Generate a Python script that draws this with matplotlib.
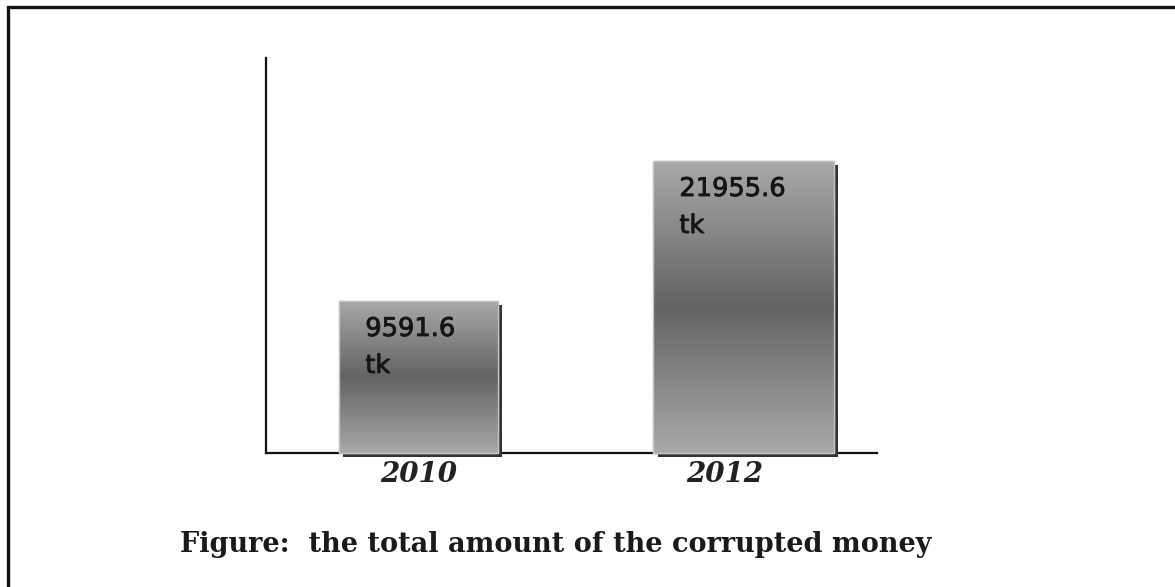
import numpy as np
import matplotlib
matplotlib.use("Agg")
import matplotlib.pyplot as plt
import matplotlib.patheffects as pe
from matplotlib.colors import LinearSegmentedColormap
from matplotlib.patches import Rectangle

# ----------------- data ----------------- #
years = ["2010", "2012"]
amounts = [9591.6, 21955.6]
unit = "tk"
caption = "Figure:  the total amount of the corrupted money"

# ----------------- style ----------------- #
y_base, y_top = -3833, 31052          # axis does not start at zero in the original
bar_offsets = [0.0, 0.063]
bar_widths = [0.52, 0.59]
grad = LinearSegmentedColormap.from_list(
    "bar_grad", ["#a9a9a9", "#636363", "#a9a9a9"])

fig = plt.figure(figsize=(11.75, 5.87), dpi=100)
ax = fig.add_axes([266 / 1175, 1 - 453 / 587, 611 / 1175, 395 / 587])

x = np.arange(len(years))
heights = [a - y_base for a in amounts]
bars = ax.bar(x + np.array(bar_offsets), heights, width=bar_widths, bottom=y_base,
              color="#8a8a8a", edgecolor="#c4c4c4", linewidth=1.0, zorder=3,
              clip_on=False)

g = np.linspace(0, 1, 256).reshape(-1, 1)
for i, b in enumerate(bars):
    b.set_path_effects([pe.SimplePatchShadow(offset=(3, -3), shadow_rgbFace="#333333", alpha=1.0),
                        pe.Normal()])
    x0, w = b.get_x(), b.get_width()
    y0, h = b.get_y(), b.get_height()
    im = ax.imshow(g, cmap=grad, extent=[x0, x0 + w, y0, y0 + h], origin="upper",
                   aspect="auto", zorder=4, interpolation="bilinear")
    im.set_clip_path(b)
    ax.add_patch(Rectangle((x0, y0), w, h, fill=False, edgecolor="#c4c4c4",
                           linewidth=1.0, zorder=5, clip_on=False))
    # value label in the top-left of the bar
    ax.annotate(f"{amounts[i]}\n{unit}", xy=(x0, y0 + h),
                xytext=(26, -15), textcoords="offset pixels", ha="left", va="top",
                fontsize=18.5, color="#151515", linespacing=1.55, zorder=6,
                family="DejaVu Sans",
                path_effects=[pe.withStroke(linewidth=0.6, foreground="#151515")])

ax.set_xlim(-0.5, 1.5)
ax.set_ylim(y_base, y_top)
ax.set_xticks(x)
ax.set_xticklabels(years, fontsize=20, fontweight="bold", fontstyle="italic",
                   family="DejaVu Serif", color="#222222")
ax.tick_params(axis="x", length=0, pad=6)
ax.set_yticks([])
for s in ["top", "right"]:
    ax.spines[s].set_visible(False)
for s in ["left", "bottom"]:
    ax.spines[s].set_linewidth(1.6)
    ax.spines[s].set_color("#111111")

fig.text(180 / 1175, 1 - 552 / 587, caption, ha="left", va="baseline",
         fontsize=19.5, fontweight="bold", family="DejaVu Serif", color="#1a1a1a")

# outer frame (runs off the right and bottom edges)
fig.patches.append(Rectangle((8 / 1175, -0.1), 1.2, 1 - 7 / 587 + 0.1,
                             transform=fig.transFigure, fill=False,
                             edgecolor="#111111", linewidth=2.4, clip_on=False))

fig.savefig("out.png", dpi=100)
